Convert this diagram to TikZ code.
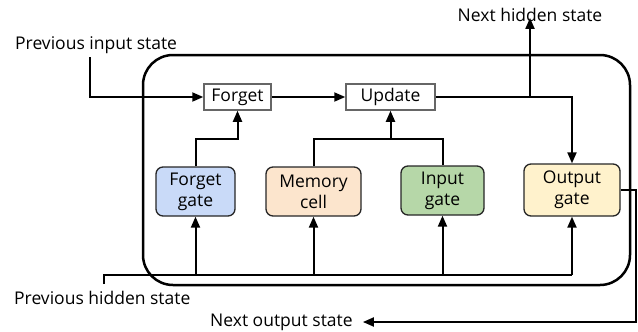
\documentclass[tikz,border=0pt]{standalone}
\usepackage{fontspec}
\setmainfont{Open Sans}
\usetikzlibrary{arrows.meta}
\definecolor{fgfill}{HTML}{C9DAF8}
\definecolor{mcfill}{HTML}{FCE5CD}
\definecolor{igfill}{HTML}{B6D7A8}
\definecolor{ogfill}{HTML}{FFF2CC}
\begin{document}
\begin{tikzpicture}[x=1pt,y=-1pt,
  font=\fontsize{17.5}{21}\selectfont,
  line/.style={line width=2pt},
  arr/.style={line width=2pt,-{Triangle[length=11pt,width=9pt]}},
  opbox/.style={draw=black!60, line width=1.5pt, fill=white, inner sep=0pt, minimum height=26pt},
  gatebox/.style={draw=black!85, line width=1.3pt, rounded corners=7pt, inner sep=0pt, minimum height=49pt, align=center, font=\fontsize{17.5}{21}\selectfont}]
\useasboundingbox (0,0) rectangle (638,332);
\draw[line width=2.5pt, rounded corners=30pt] (143,55) rectangle (630,285);
\node[opbox, minimum width=67pt] (forget) at (237.5,97) {Forget};
\node[opbox, minimum width=89pt] (update) at (390.5,97) {Update};
\node[gatebox, fill=fgfill, minimum width=79pt] (fg) at (195.5,191.5) {Forget\\gate};
\node[gatebox, fill=mcfill, minimum width=95pt] (mc) at (313.5,191.5) {Memory\\cell};
\node[gatebox, fill=igfill, minimum width=83pt] (ig) at (442.5,190.5) {Input\\gate};
\node[gatebox, fill=ogfill, minimum width=96pt, minimum height=52pt] (og) at (572,190) {Output\\gate};
\node[anchor=west, inner sep=0pt] (pis) at (15,45) {Previous input state};
\node[inner sep=0pt] (nhs) at (530,15) {Next hidden state};
\node[anchor=west, inner sep=0pt] (phs) at (14,298) {Previous hidden state};
\node[anchor=west, inner sep=0pt] (nos) at (210,322) {Next output state};
\coordinate (lvl) at (0,139);
\coordinate (bus) at (0,275);
\coordinate (pisstart) at (90,57);
\coordinate (phsstart) at (104,284);
% input path
\draw[arr] (pisstart) |- (forget.west);
\draw[arr] (forget.east) -- (update.west);
\draw[arr] (update.east) -| (og.north);
\draw[arr] (update.east -| nhs.south) -- ([yshift=4pt]nhs.south);
% gates to ops
\draw[arr] (fg.north) |- (forget.south |- lvl) -- (forget.south);
\draw[line] (mc.north) |- (ig.north |- lvl) -- (ig.north);
\draw[arr] (update.south |- lvl) -- (update.south);
% hidden bus
\draw[line] (phsstart) |- (og.south |- bus);
\draw[arr] (fg.south |- bus) -- (fg.south);
\draw[arr] (mc.south |- bus) -- (mc.south);
\draw[arr] (ig.south |- bus) -- (ig.south);
\draw[arr] (og.south |- bus) -- (og.south);
% output
\draw[arr] (og.east) -- ++(15,0) |- ([xshift=10pt]nos.east);
\end{tikzpicture}
\end{document}
